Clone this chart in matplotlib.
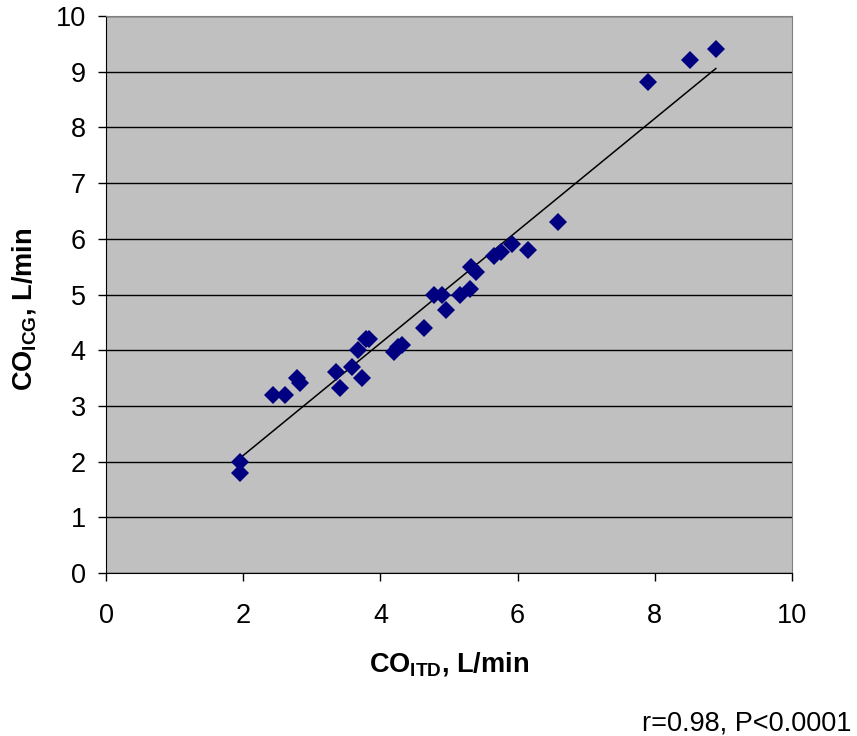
import numpy as np
import matplotlib
matplotlib.use("Agg")
import matplotlib.pyplot as plt

plt.rcParams['font.family'] = ['Liberation Sans', 'DejaVu Sans']
plt.rcParams['mathtext.fontset'] = 'custom'
plt.rcParams['mathtext.rm'] = 'Liberation Sans:bold'
plt.rcParams['mathtext.bf'] = 'Liberation Sans:bold'

# CO measured by thermodilution (x) and indocyanine green (y), L/min
co_itd = [1.95, 1.95, 2.44, 2.61, 2.78, 2.83, 3.35, 3.41, 3.58, 3.67, 3.73, 3.79, 3.83,
          4.20, 4.25, 4.32, 4.64, 4.78, 4.90, 4.96, 5.16, 5.30, 5.32, 5.39, 5.66, 5.76,
          5.92, 6.15, 6.59, 7.90, 8.52, 8.89]
co_icg = [2.0, 1.8, 3.2, 3.2, 3.5, 3.42, 3.6, 3.32, 3.7, 4.0, 3.5, 4.2, 4.2,
          3.97, 4.05, 4.1, 4.4, 5.0, 5.0, 4.72, 5.0, 5.1, 5.5, 5.4, 5.69, 5.76,
          5.9, 5.8, 6.3, 8.82, 9.21, 9.4]
stats_text = "r=0.98, P<0.0001"

fig = plt.figure(figsize=(8.57, 7.36), dpi=100)
ax = fig.add_axes([0.1237, 0.2215, 0.8004, 0.7567])
ax.set_facecolor('#C0C0C0')

slope, icpt = np.polyfit(co_itd, co_icg, 1)
xl = np.array([min(co_itd), max(co_itd)])
ax.plot(xl, slope * xl + icpt, color='black', lw=1.1, zorder=2)
ax.plot(co_itd, co_icg, 'D', color='#000080', ms=9, mew=0, zorder=3)

ax.set_xlim(0, 10)
ax.set_ylim(0, 10)
ax.set_xticks(range(0, 11, 2))
ax.set_yticks(range(0, 11))
ax.yaxis.grid(True, color='black', lw=1.0)
ax.set_axisbelow(True)
ax.tick_params(direction='out', length=5.5, width=1, labelsize=19.5)
ax.tick_params(axis='x', pad=16)
ax.tick_params(axis='y', pad=9)

for s in ['top', 'right']:
    ax.spines[s].set_color('#808080')
for s in ['left', 'bottom']:
    ax.spines[s].set_color('black')

xlab = ax.set_xlabel(r"CO$_{\mathrm{ITD}}$, L/min", fontsize=19.5, fontweight='bold')
xlab.set_verticalalignment('baseline')
ax.xaxis.set_label_coords(0.5, -0.1777)

fig.text(24 / 857, 1 - 309 / 736, r"CO$_{\mathrm{ICG}}$, L/min", fontsize=19.5,
         fontweight='bold', rotation=90, ha='center', va='center')

fig.text(0.993, 1 - 730.7 / 736, stats_text, ha='right', va='baseline', fontsize=19.5)

fig.savefig("out.png", dpi=100)
